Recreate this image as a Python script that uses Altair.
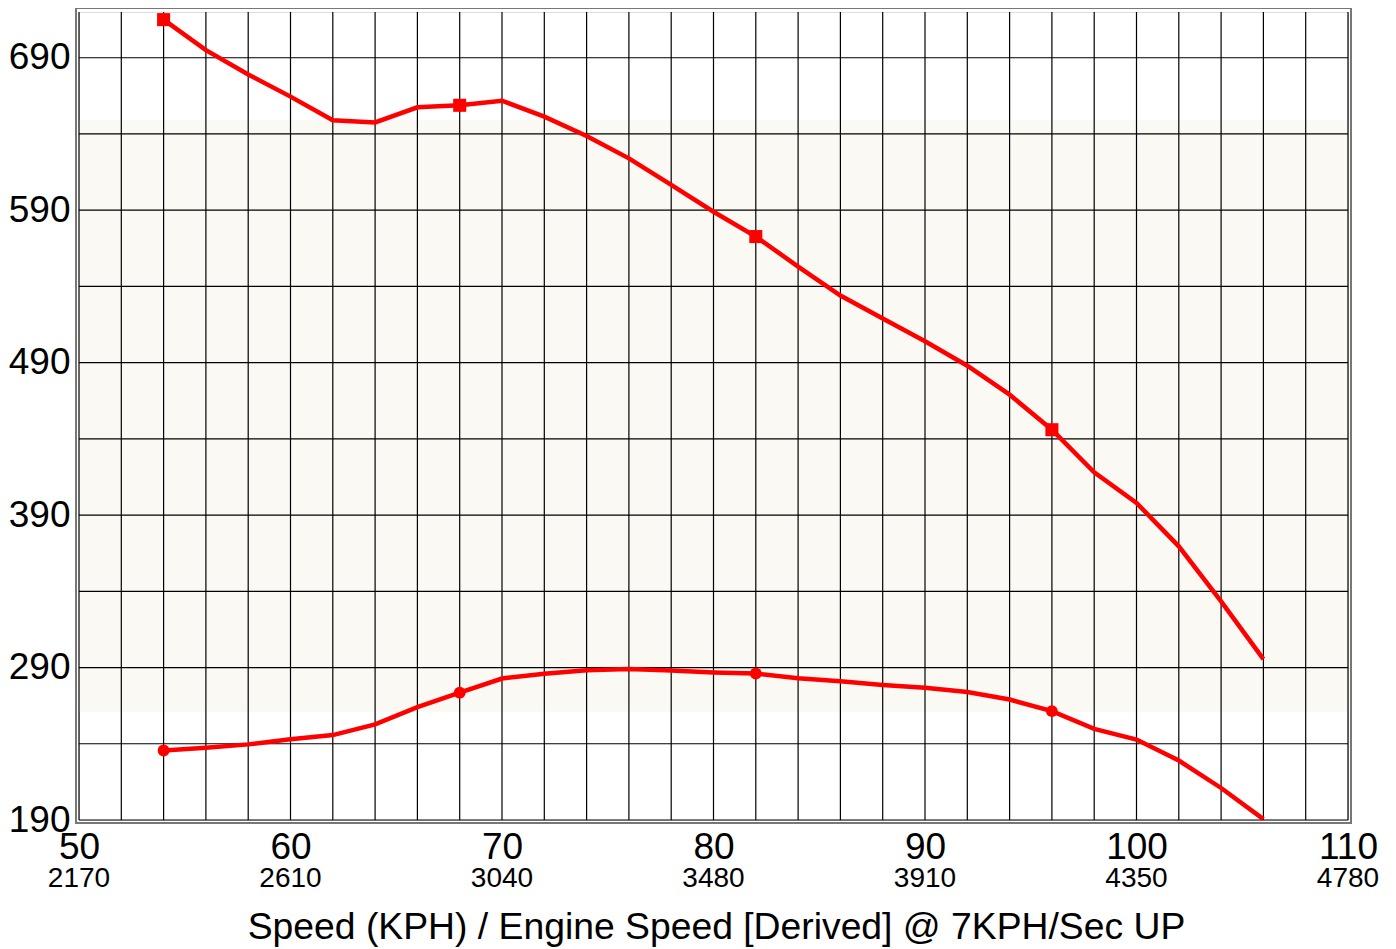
import altair as alt
import pandas as pd

# ---- data ----
speed = [54, 56, 58, 60, 62, 64, 66, 68, 70, 72, 74, 76, 78, 80,
         82, 84, 86, 88, 90, 92, 94, 96, 98, 100, 102, 104, 106]
upper = [715, 695, 679, 664.5, 649, 647.6, 657.5, 658.8, 661.8, 651.4, 638.7, 624, 606.6, 589,
         572.7, 553, 534, 519, 504, 488, 469, 446, 418, 398, 369.5, 333.4, 295.5]
lower = [235.6, 237.4, 239.6, 242.9, 245.7, 252.7, 264, 273.5, 282.8, 286, 288.2, 289, 288, 286.8,
         286.1, 283, 281, 278.6, 276.7, 274, 269, 261.4, 249.8, 242.8, 229, 211, 190.6]
marker_speeds = [54, 68, 82, 96]

x_ticks = [50, 60, 70, 80, 90, 100, 110]
rpm_labels = ["2170", "2610", "3040", "3480", "3910", "4350", "4780"]
x_grid = list(range(50, 111, 2))
y_grid = list(range(190, 721, 50))
y_labels = [190, 290, 390, 490, 590, 690]
x_title = "Speed (KPH) / Engine Speed [Derived] @ 7KPH/Sec UP"

band = {"x": 50, "x2": 110, "y": 649, "y2": 261}

W, H = 1269, 808
FONT = "Liberation Sans"
RED = "#ff0000"

df_up = pd.DataFrame({"speed": speed, "val": upper})
df_lo = pd.DataFrame({"speed": speed, "val": lower})
df_up_m = df_up[df_up.speed.isin(marker_speeds)]
df_lo_m = df_lo[df_lo.speed.isin(marker_speeds)]
df_vg = pd.DataFrame({"x": x_grid})
df_hg = pd.DataFrame({"y": y_grid})
df_rpm = pd.DataFrame({"x": x_ticks, "rpm": rpm_labels})
df_band = pd.DataFrame([band])

xscale = alt.Scale(domain=[50, 110], nice=False, zero=False)
yscale = alt.Scale(domain=[190, 720], nice=False, zero=False)

xaxis = alt.Axis(values=x_ticks, grid=False, ticks=False, domain=False,
                 labelFontSize=37, labelFont=FONT, labelColor="black",
                 labelPadding=9, title=None, labelFlush=False, labelOverlap=False)
yaxis = alt.Axis(values=y_labels, grid=False, ticks=False, domain=False,
                 labelFontSize=37, labelFont=FONT, labelColor="black",
                 labelPadding=9, title=None, labelFlush=False, labelOverlap=False,
                 labelBaseline="middle")

band_layer = alt.Chart(df_band).mark_rect(color="#fbf9f3").encode(
    x=alt.X("x:Q", scale=xscale, axis=xaxis),
    x2="x2:Q",
    y=alt.Y("y:Q", scale=yscale, axis=yaxis),
    y2="y2:Q",
)

vgrid = alt.Chart(df_vg).mark_rule(color="#000", strokeWidth=1.2).encode(
    x=alt.X("x:Q", scale=xscale)
)
hgrid = alt.Chart(df_hg).mark_rule(color="#000", strokeWidth=1.2).encode(
    y=alt.Y("y:Q", scale=yscale)
)

line_up = alt.Chart(df_up).mark_line(color=RED, strokeWidth=4.5).encode(
    x=alt.X("speed:Q", scale=xscale), y=alt.Y("val:Q", scale=yscale))
line_lo = alt.Chart(df_lo).mark_line(color=RED, strokeWidth=4.5).encode(
    x=alt.X("speed:Q", scale=xscale), y=alt.Y("val:Q", scale=yscale))
pts_up = alt.Chart(df_up_m).mark_point(shape="square", filled=True, color=RED,
                                        size=170, opacity=1).encode(
    x=alt.X("speed:Q", scale=xscale), y=alt.Y("val:Q", scale=yscale))
pts_lo = alt.Chart(df_lo_m).mark_point(shape="circle", filled=True, color=RED,
                                        size=140, opacity=1).encode(
    x=alt.X("speed:Q", scale=xscale), y=alt.Y("val:Q", scale=yscale))

rpm_text = alt.Chart(df_rpm).mark_text(fontSize=28, font=FONT, color="black",
                                       baseline="middle", align="center").encode(
    x=alt.X("x:Q", scale=xscale), y=alt.value(H + 59), text="rpm:N")

title_text = alt.Chart(pd.DataFrame({"t": [x_title]})).mark_text(
    fontSize=37.3, font=FONT, color="black", baseline="middle", align="center").encode(
    x=alt.value(W / 2 + 3), y=alt.value(H + 108), text="t:N")

outer_frame = alt.Chart(pd.DataFrame({"a": [0]})).mark_rect(
    fill="transparent", stroke="#777", strokeWidth=2).encode(
    x=alt.value(-3), x2=alt.value(W + 3), y=alt.value(-4), y2=alt.value(H + 3))

chart = alt.layer(band_layer, vgrid, hgrid, line_up, line_lo, pts_up, pts_lo,
                  rpm_text, title_text, outer_frame).properties(
    width=W, height=H,
    autosize=alt.AutoSizeParams(type="none"),
    padding={"left": 71, "top": 4, "right": 40, "bottom": 130},
).configure_view(stroke="black", strokeWidth=1.5).configure(background="white")

chart.save("out.html", embed_options={"renderer": "svg", "actions": False})
